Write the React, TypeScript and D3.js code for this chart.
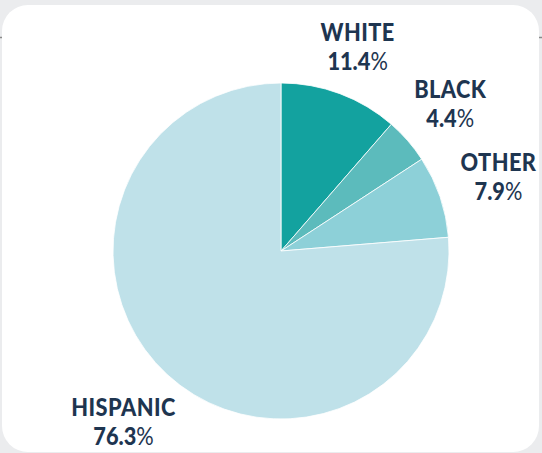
import { useRef, useEffect } from 'react'
import * as d3 from 'd3'

const categories = ['WHITE', 'BLACK', 'OTHER', 'HISPANIC']
const shares = [11.4, 4.4, 7.9, 76.3]
const sliceColors = ['#13a29f', '#5cbbbc', '#8dd0d8', '#bfe1e9']

const W = 542
const H = 453

type Slice = { name: string; value: number; color: string }

export default function App() {
  const svgRef = useRef<SVGSVGElement>(null)

  useEffect(() => {
    if (!svgRef.current) return
    const svg = d3.select(svgRef.current)
    svg.selectAll('*').remove()

    const data: Slice[] = categories.map((name, i) => ({ name, value: shares[i], color: sliceColors[i] }))

    const cx = 281
    const cy = 251
    const radius = 168
    const labelGap = 25
    const fontSize = 25
    const squeeze = 0.87
    const lineStep = 29
    const capH = fontSize * 0.72
    const textColor = '#1e3550'
    const font = 'Lato, "DejaVu Sans", sans-serif'

    // page background + card
    svg.append('rect').attr('width', W).attr('height', H).attr('fill', '#ebecee')
    svg.append('line')
      .attr('x1', 0).attr('x2', W).attr('y1', 37.5).attr('y2', 37.5)
      .attr('stroke', '#8a8a8a').attr('stroke-width', 1.5)
    svg.append('rect')
      .attr('x', 2).attr('y', 5).attr('width', 537).attr('height', 447)
      .attr('rx', 26).attr('ry', 26).attr('fill', '#ffffff')

    const pie = d3.pie<Slice>().sort(null).value((d) => d.value)
    const arcs = pie(data)
    const arc = d3.arc<d3.PieArcDatum<Slice>>().innerRadius(0).outerRadius(radius)

    const g = svg.append('g').attr('transform', `translate(${cx},${cy})`)

    g.selectAll('path.slice')
      .data(arcs)
      .join('path')
      .attr('class', 'slice')
      .attr('d', (d) => arc(d) ?? '')
      .attr('fill', (d) => d.data.color)
      .attr('stroke', '#ffffff')
      .attr('stroke-width', 0.8)

    // labels: text block pushed out along the slice's mid angle, clear of the pie
    for (const a of arcs) {
      const lg = g.append('g')
      const inner = lg.append('g').attr('transform', `scale(${squeeze},1)`)
      const text = inner.append('text')
        .attr('text-anchor', 'middle')
        .attr('fill', textColor)
        .attr('font-family', font)
        .attr('font-size', fontSize)
        .attr('font-weight', 900)
      text.append('tspan').attr('x', 0).attr('y', 0).attr('letter-spacing', 0.5).text(a.data.name)
      const pct = text.append('tspan').attr('x', 0).attr('y', lineStep)
      pct.append('tspan').text(a.data.value.toFixed(1))
      pct.append('tspan').attr('font-weight', 400).text('%')

      const bb = (lg.node() as SVGGElement).getBBox()
      const w = bb.width
      const h = capH + lineStep
      const midY = -capH + h / 2
      const theta = (a.startAngle + a.endAngle) / 2
      const s = Math.sin(theta)
      const c = Math.cos(theta)
      const ext = Math.hypot((w / 2) * s, (h / 2) * c)
      const dist = radius + labelGap + ext
      lg.attr('transform', `translate(${dist * s},${-dist * c - midY})`)
    }
  }, [])

  return <svg ref={svgRef} width={W} height={H} style={{ position: 'absolute', left: 0, top: 0, display: 'block' }} />
}
